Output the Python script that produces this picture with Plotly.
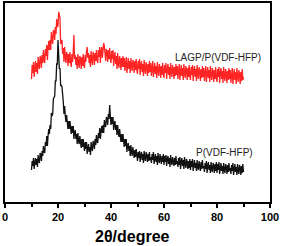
import numpy as np
import plotly.graph_objects as go

# 2-theta sampling grid (degrees)
two_theta_start = 10.0
two_theta_step = 0.25

# P(VDF-HFP) intensity (a.u.), 10..90 deg every 0.25 deg
pvdf_hfp = [
    32, 41, 36, 44, 33, 40, 44, 37, 43, 35, 47, 41, 39, 49, 47, 41, 51, 46, 56, 50,
    49, 60, 56, 66, 56, 66, 73, 68, 77, 73, 89, 86, 88, 103, 106, 106, 121, 121, 138, 138,
    162, 147, 133, 134, 116, 117, 115, 100, 100, 88, 96, 86, 80, 87, 82, 73, 81, 73, 81, 72,
    68, 76, 69, 76, 63, 69, 72, 63, 68, 58, 69, 61, 58, 66, 62, 54, 63, 55, 63, 54,
    51, 60, 53, 60, 48, 54, 58, 50, 55, 47, 60, 54, 51, 61, 59, 53, 63, 57, 67, 60,
    59, 69, 64, 74, 63, 71, 76, 69, 77, 69, 82, 76, 75, 85, 83, 77, 88, 83, 97, 86,
    77, 85, 78, 85, 72, 78, 81, 72, 77, 67, 77, 69, 65, 73, 68, 60, 68, 60, 68, 59,
    55, 63, 56, 63, 50, 56, 59, 51, 56, 46, 57, 50, 46, 55, 51, 44, 52, 45, 53, 45,
    41, 50, 44, 51, 40, 47, 50, 42, 48, 39, 51, 44, 41, 50, 47, 40, 48, 41, 50, 42,
    45, 39, 48, 42, 50, 38, 45, 48, 40, 46, 37, 49, 42, 39, 48, 44, 38, 46, 40, 48,
    37, 46, 40, 47, 36, 43, 46, 38, 44, 35, 47, 40, 37, 45, 42, 36, 44, 37, 46, 38,
    41, 35, 44, 37, 45, 33, 40, 44, 36, 42, 33, 45, 38, 34, 43, 40, 33, 41, 34, 43,
    32, 41, 35, 43, 31, 38, 42, 34, 39, 31, 42, 35, 32, 41, 37, 31, 40, 33, 42, 34,
    36, 30, 39, 33, 41, 29, 36, 40, 32, 37, 29, 40, 33, 30, 39, 36, 29, 38, 31, 40,
    29, 38, 32, 40, 28, 35, 39, 31, 36, 28, 39, 32, 29, 38, 35, 28, 37, 30, 39, 31,
    34, 28, 37, 31, 39, 27, 34, 38, 30, 35, 27, 38, 31, 28, 37, 34, 27, 36, 29, 38,
    30,
]

# LAGP/P(VDF-HFP) intensity (a.u.), 10..90 deg every 0.25 deg
lagp_pvdf_hfp = [
    123, 137, 129, 140, 125, 135, 141, 130, 139, 128, 145, 137, 133, 146, 144, 134, 147, 139, 152, 142,
    139, 153, 146, 157, 142, 154, 161, 152, 162, 152, 170, 162, 158, 172, 170, 162, 175, 168, 183, 175,
    176, 190, 188, 184, 158, 162, 162, 148, 154, 140, 155, 145, 139, 150, 147, 136, 148, 139, 150, 139,
    135, 148, 140, 150, 167, 143, 147, 137, 145, 133, 148, 139, 134, 146, 143, 133, 145, 136, 148, 137,
    134, 147, 140, 150, 155, 144, 149, 139, 147, 135, 151, 142, 137, 150, 147, 137, 149, 141, 152, 142,
    139, 152, 145, 155, 139, 150, 155, 144, 152, 159, 156, 147, 141, 153, 150, 140, 152, 143, 154, 143,
    139, 151, 143, 152, 136, 145, 150, 138, 146, 133, 149, 139, 134, 146, 142, 132, 144, 135, 146, 135,
    144, 131, 136, 145, 129, 139, 144, 133, 141, 129, 144, 136, 131, 142, 139, 129, 141, 132, 143, 132,
    128, 141, 133, 143, 127, 136, 141, 130, 138, 126, 142, 133, 128, 140, 136, 126, 138, 129, 141, 130,
    139, 126, 131, 141, 125, 135, 139, 128, 136, 124, 140, 131, 126, 138, 134, 124, 136, 127, 139, 128,
    124, 137, 129, 139, 123, 133, 138, 127, 135, 123, 139, 130, 125, 137, 133, 123, 135, 126, 138, 127,
    136, 123, 128, 138, 122, 132, 137, 126, 134, 122, 138, 129, 124, 136, 132, 122, 134, 125, 137, 126,
    122, 135, 127, 137, 121, 131, 136, 125, 133, 121, 137, 128, 123, 135, 131, 121, 133, 124, 136, 125,
    134, 121, 126, 136, 120, 130, 135, 124, 132, 120, 136, 127, 122, 134, 130, 120, 132, 123, 135, 124,
    120, 133, 125, 135, 119, 129, 134, 123, 131, 119, 135, 126, 121, 133, 129, 119, 131, 122, 134, 123,
    132, 119, 124, 134, 118, 128, 133, 122, 130, 118, 134, 125, 120, 132, 128, 118, 130, 121, 133, 122,
    125,
]

series_names = ["LAGP/P(VDF-HFP)", "P(VDF-HFP)"]
x_tick_vals = [0, 20, 40, 60, 80, 100]
x_tick_text = ["0", "20", "40", "60", "80", "100"]
x_title = "2θ/degree"

two_theta = two_theta_start + two_theta_step * np.arange(len(pvdf_hfp))

W, H = 283, 246
M_L, M_R, M_T, M_B = 5, 13, 3, 44
plot_h = H - M_T - M_B

fig = go.Figure()
fig.add_trace(go.Scatter(x=two_theta, y=lagp_pvdf_hfp, mode="lines",
                         line=dict(color="#ff2424", width=1.3), name=series_names[0]))
fig.add_trace(go.Scatter(x=two_theta, y=pvdf_hfp, mode="lines",
                         line=dict(color="#111111", width=1.3), name=series_names[1]))

fig.add_annotation(x=80.5, y=145, text=series_names[0], showarrow=False,
                   font=dict(family="Liberation Sans, Arial", size=10, color="#222"))
fig.add_annotation(x=82.8, y=50, text=series_names[1], showarrow=False,
                   font=dict(family="Liberation Sans, Arial", size=10, color="#222"))
fig.add_annotation(x=0.48, xref="paper", y=(H - M_B - 236) / plot_h, yref="paper",
                   yanchor="middle", text=x_title, showarrow=False,
                   font=dict(family="Liberation Sans, Arial", size=16, weight="bold",
                             color="black"))

fig.update_layout(
    width=W, height=H,
    margin=dict(l=M_L, r=M_R, t=M_T, b=M_B, autoexpand=False),
    paper_bgcolor="white", plot_bgcolor="white",
    showlegend=False,
    font=dict(family="Liberation Sans, Arial", color="black"),
)
fig.update_xaxes(
    range=[0, 100], tickvals=x_tick_vals, ticktext=x_tick_text,
    ticks="outside", ticklen=4, tickwidth=1.5, tickcolor="black",
    minor=dict(tickvals=[10, 30, 50, 70, 90], ticks="outside", ticklen=3,
               tickwidth=1.5, tickcolor="black"),
    showline=True, linewidth=2, linecolor="black", mirror=True,
    showgrid=False, zeroline=False, automargin=False,
    tickfont=dict(size=11, weight="bold", family="Liberation Sans, Arial"),
)
fig.update_yaxes(
    range=[0, 199], showticklabels=False, ticks="",
    showline=True, linewidth=2, linecolor="black", mirror=True,
    showgrid=False, zeroline=False, automargin=False,
)

fig.write_html("out.html", config={"displayModeBar": False},
               post_script="document.body.style.margin='0px';document.body.style.overflow='hidden';")
